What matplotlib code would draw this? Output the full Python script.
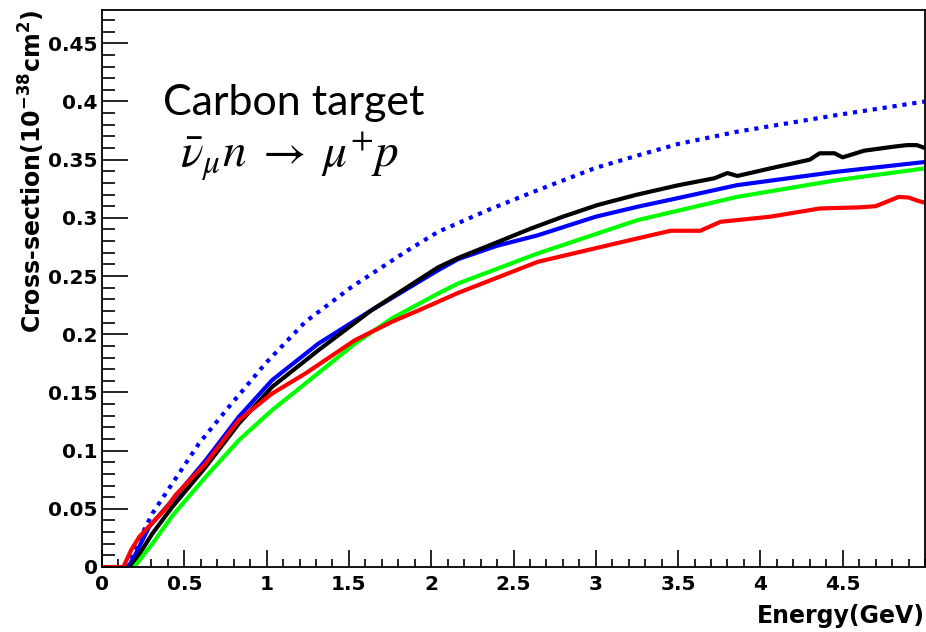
import numpy as np
import matplotlib
matplotlib.use('Agg')
import matplotlib.pyplot as plt
from matplotlib.ticker import MultipleLocator

# --- data ---
blue_dot_e = [0.14, 0.2, 0.306, 0.427, 0.589, 0.771, 0.993, 1.235, 1.517, 1.86, 2.042, 2.35, 2.647,
              3.0, 3.252, 3.5, 3.858, 4.463, 5.0]
blue_dot_xs = [0.0, 0.016, 0.046, 0.0717, 0.1061, 0.1376, 0.1749, 0.2106, 0.2407, 0.2723, 0.288,
               0.307, 0.3238, 0.343, 0.3535, 0.3635, 0.374, 0.3883, 0.400]

blue_e = [0.16, 0.2, 0.286, 0.427, 0.63, 0.831, 1.033, 1.315, 1.638, 2.042, 2.163, 2.4, 2.647,
          3.0, 3.252, 3.5, 3.858, 4.463, 5.0]
blue_xs = [0.0, 0.010, 0.0344, 0.0573, 0.0917, 0.129, 0.1605, 0.192, 0.2207, 0.255, 0.2645, 0.276,
           0.285, 0.301, 0.3095, 0.317, 0.3281, 0.3396, 0.348]

black_e = [0.175, 0.2, 0.306, 0.427, 0.63, 0.831, 1.033, 1.315, 1.638, 2.042, 2.163, 2.4, 2.6,
           2.8, 3.01, 3.252, 3.5, 3.72, 3.80, 3.86, 4.06, 4.30, 4.36, 4.45, 4.50, 4.63, 4.8, 4.89,
           4.95, 5.0]
black_xs = [0.0, 0.005, 0.0287, 0.0516, 0.086, 0.1232, 0.1547, 0.1863, 0.2207, 0.2575, 0.2655,
            0.279, 0.2905, 0.301, 0.311, 0.320, 0.328, 0.334, 0.3385, 0.336, 0.3425, 0.350,
            0.3555, 0.3555, 0.352, 0.3577, 0.361, 0.3625, 0.3625, 0.360]

green_e = [0.195, 0.306, 0.427, 0.63, 0.831, 1.033, 1.235, 1.537, 1.76, 2.042, 2.163, 2.647, 3.252,
           3.858, 4.463, 5.0]
green_xs = [0.0, 0.020, 0.044, 0.0774, 0.1089, 0.1347, 0.1576, 0.192, 0.2135, 0.235, 0.2436, 0.2694,
            0.298, 0.318, 0.3324, 0.3425]

red_e = [0.02, 0.13, 0.176, 0.226, 0.306, 0.387, 0.448, 0.63, 0.831, 1.033, 1.235, 1.537, 1.76, 1.94,
         2.163, 2.647, 2.95, 3.252, 3.454, 3.635, 3.757, 4.06, 4.362, 4.6, 4.7, 4.84, 4.9, 4.96, 5.0]
red_xs = [0.0, 0.0, 0.0143, 0.0258, 0.038, 0.050, 0.062, 0.0889, 0.1261, 0.149, 0.1662, 0.1949,
          0.2106, 0.2215, 0.2355, 0.2622, 0.2723, 0.2823, 0.2889, 0.2889, 0.2966, 0.301, 0.3081,
          0.309, 0.310, 0.318, 0.3175, 0.3145, 0.313]

x_ticks = [0, 0.5, 1, 1.5, 2, 2.5, 3, 3.5, 4, 4.5]
y_ticks = [0, 0.05, 0.1, 0.15, 0.2, 0.25, 0.3, 0.35, 0.4, 0.45]

fig = plt.figure(figsize=(9.26, 6.32), dpi=100)
ax = fig.add_axes([102 / 926, 65 / 632, 823 / 926, 557 / 632])

lw = 3
ax.plot(blue_dot_e, blue_dot_xs, color='#0000ff', lw=lw, linestyle=(0, (1, 1.4)))
ax.plot(blue_e, blue_xs, color='#0000ff', lw=lw)
ax.plot(black_e, black_xs, color='black', lw=lw)
ax.plot(green_e, green_xs, color='#00ff00', lw=lw)
ax.plot(red_e, red_xs, color='#ff0000', lw=lw)

ax.set_xlim(0, 5)
ax.set_ylim(0, 0.4786)
ax.set_xticks(x_ticks)
ax.set_xticklabels([f'{v:g}' for v in x_ticks])
ax.set_yticks(y_ticks)
ax.set_yticklabels([f'{v:g}' for v in y_ticks])
ax.xaxis.set_minor_locator(MultipleLocator(0.1))
ax.yaxis.set_minor_locator(MultipleLocator(0.01))

ax.tick_params(axis='x', which='major', direction='in', length=12, width=1.2, pad=6)
ax.tick_params(axis='x', which='minor', direction='in', length=6, width=1.2)
ax.tick_params(axis='y', which='major', direction='in', length=19, width=1.2, pad=3)
ax.tick_params(axis='y', which='minor', direction='in', length=9.5, width=1.2)
for lab in ax.get_xticklabels() + ax.get_yticklabels():
    lab.set_fontsize(14.5)
    lab.set_fontweight('bold')
for sp in ax.spines.values():
    sp.set_linewidth(1.3)

ax.set_xlabel('Energy(GeV)', fontsize=17, fontweight='bold', loc='right', labelpad=7)
ax.set_ylabel('Cross-section(10$^{\\mathbf{-38}}$cm$^{\\mathbf{2}}$)', fontsize=17,
              fontweight='bold', loc='top', labelpad=1)

fig.text(163 / 926, 1 - 115 / 632, 'Carbon target', fontsize=31, family='Lato',
         va='baseline', ha='left')
fig.text(180 / 926, 1 - 167 / 632, r'$\bar{\nu}_{\mu}n\;\rightarrow\;\mu^{+}p$', fontsize=34,
         math_fontfamily='stix', va='baseline', ha='left')

fig.savefig('out.png', dpi=100)
